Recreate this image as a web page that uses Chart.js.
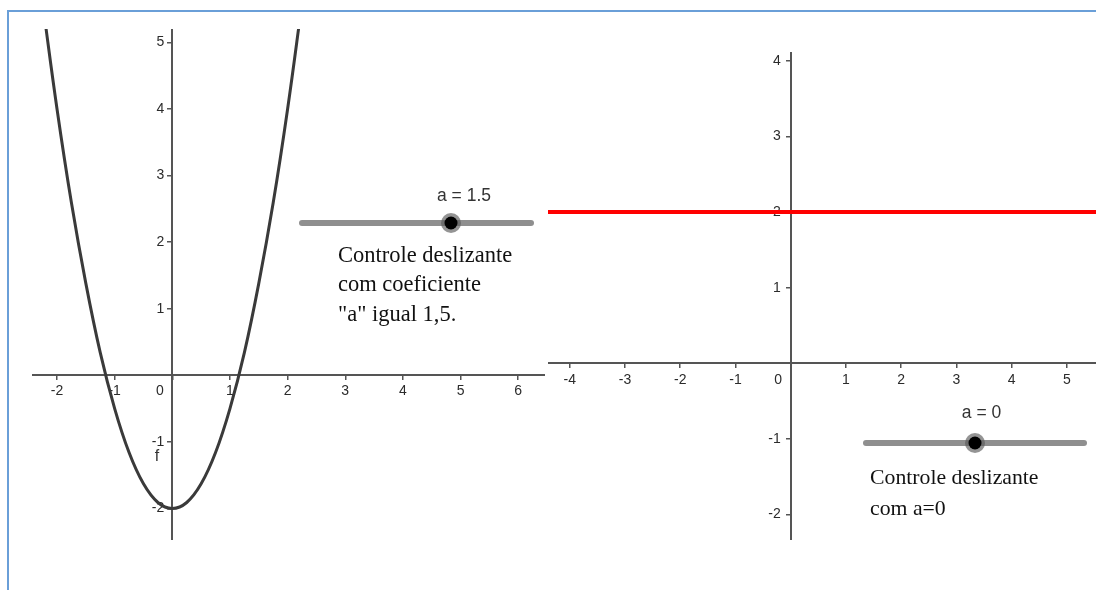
<!DOCTYPE html>
<html>
<head>
<meta charset="utf-8">
<script src="https://cdn.jsdelivr.net/npm/chart.js@4.4.1/dist/chart.umd.min.js"></script>
<style>
  html, body { margin: 0; padding: 0; background: #fff; }
  #page { position: relative; width: 1096px; height: 590px; overflow: hidden; }
  .frame { position: absolute; left: 7px; top: 10px; width: 1200px; height: 700px;
           border-top: 2px solid #6a9fd8; border-left: 2px solid #6a9fd8; }
  canvas { position: absolute; }
  .track { position: absolute; height: 6px; border-radius: 3px; background: #8f8f8f; }
  .knob { position: absolute; width: 13px; height: 13px; border-radius: 50%; background: #000;
          box-shadow: 0 0 0 3.5px rgba(90, 90, 90, .65); transform: translate(-50%, -50%); }
  .sl-label { position: absolute; font-family: 'Liberation Sans', Arial, sans-serif; font-size: 17.5px;
              color: #333; transform: translate(-50%, -50%); white-space: nowrap; }
  .note { position: absolute; font-family: 'Liberation Serif', 'Times New Roman', serif; color: #111; white-space: nowrap; }
  .flabel { position: absolute; font-family: 'Liberation Sans Narrow', 'Liberation Sans', sans-serif; font-size: 16px;
            color: #333; transform: translate(-50%, -50%); }
</style>
</head>
<body>
<div id="page">
  <div class="frame"></div>
  <canvas id="leftChart" width="513" height="511" style="left:32px; top:29px;"></canvas>
  <canvas id="rightChart" width="548" height="488" style="left:548px; top:52px;"></canvas>
  <div class="flabel" style="left:157px; top:456px;">f</div>
  <div class="note" style="left:338px; top:240px; font-size:22.5px; line-height:29.4px;">Controle deslizante<br>com coeficiente<br>"a" igual 1,5.</div>
  <div class="note" style="left:870px; top:462px; font-size:21.75px; line-height:31px;">Controle deslizante<br>com a=0</div>
</div>
<script>
// graph of f (left)
const fX = [-2.25, -2, -1.75, -1.5, -1.25, -1, -0.75, -0.5, -0.25, 0, 0.25, 0.5, 0.75, 1, 1.25, 1.5, 1.75, 2, 2.25];
const fY = [5.59, 4, 2.59, 1.38, 0.34, -0.5, -1.16, -1.63, -1.91, -2, -1.91, -1.63, -1.16, -0.5, 0.34, 1.38, 2.59, 4, 5.59];

// red horizontal line (right)
const gX = [-5, 6];
const gY = [2, 2];

// tick labels
const leftXTicks = [-2, -1, 0, 1, 2, 3, 4, 5, 6];
const leftYTicks = [-2, -1, 1, 2, 3, 4, 5];
const rightXTicks = [-4, -3, -2, -1, 0, 1, 2, 3, 4, 5];
const rightYTicks = [-2, -1, 1, 2, 3, 4];

// sliders
const sliderLabels = ['a = 1.5', 'a = 0'];
const sliderValues = [1.5, 0];
const sliderMin = -5;
const sliderMax = 5;

const tickFont = "'Liberation Sans Narrow', 'Liberation Sans', Arial, sans-serif";
const tickSize = 14;

function axis(min, max, ticks, pad) {
    return {
        type: 'linear',
        min: min,
        max: max,
        afterBuildTicks: function(s) { s.ticks = ticks.map(v => ({ value: v })); },
        afterFit: function(s) { s.paddingTop = s.paddingBottom = s.paddingLeft = s.paddingRight = 0; },
        grid: { drawOnChartArea: false, drawTicks: true, tickLength: 4, color: '#555', lineWidth: 1.5 },
        border: { display: true, color: '#555', width: 2 },
        ticks: {
            padding: pad,
            color: '#2b2b2b',
            autoSkip: false,
            maxRotation: 0,
            font: { family: tickFont, size: tickSize },
            callback: v => v === 0 ? '' : String(v)
        }
    };
}

// axes through the origin: push the y labels off the axis line,
// and put the "0" below and left of the origin like GeoGebra does
const originLabel = {
    id: 'originLabel',
    beforeDraw(chart) {
        const y = chart.scales.y;
        const items = y.getLabelItems(chart.chartArea);
        if (!items._shifted) {
            const off = y.options.grid.tickLength + y.options.ticks.padding;
            items.forEach(it => { it.options.translation[0] -= off; });
            items._shifted = true;
        }
    },
    afterDraw(chart) {
        const { ctx } = chart;
        const x = chart.scales.x, y = chart.scales.y;
        const px = x.getPixelForValue(0) - 12.5;
        const py = y.getPixelForValue(0) + 4 + x.options.ticks.padding + tickSize * 0.6;
        ctx.save();
        ctx.font = tickSize + 'px ' + tickFont;
        ctx.fillStyle = '#2b2b2b';
        ctx.textAlign = 'center';
        ctx.textBaseline = 'middle';
        ctx.fillText('0', px, py);
        ctx.restore();
    }
};

function makeChart(id, xs, ys, color, width, xAxis, yAxis) {
    return new Chart(document.getElementById(id), {
        type: 'scatter',
        data: {
            datasets: [{
                data: xs.map((v, i) => ({ x: v, y: ys[i] })),
                showLine: true,
                borderColor: color,
                borderWidth: width,
                pointRadius: 0,
                tension: 0.4,
                clip: 0
            }]
        },
        options: {
            responsive: false,
            animation: false,
            events: [],
            layout: { padding: 0, autoPadding: false },
            plugins: { legend: { display: false }, tooltip: { enabled: false } },
            scales: {
                x: Object.assign(xAxis, { position: { y: 0 } }),
                y: Object.assign(yAxis, { position: { x: 0 } })
            }
        },
        plugins: [originLabel]
    });
}

makeChart('leftChart', fX, fY, '#3a3a3a', 3,
    axis(-2.434, 6.465, leftXTicks, 3), axis(-2.473, 5.2, leftYTicks, 4));
makeChart('rightChart', gX, gY, '#ff0000', 4,
    axis(-4.393, 5.526, rightXTicks, 4), axis(-2.337, 4.118, rightYTicks, 6));

// slider widgets: track ends, track height, label centre
const sliderBoxes = [
    { x0: 301.5, x1: 531, y: 222.6, lx: 464, ly: 195 },
    { x0: 866, x1: 1084, y: 442.6, lx: 981.5, ly: 411.7 }
];
const page = document.getElementById('page');
sliderBoxes.forEach(function(b, i) {
    const track = document.createElement('div');
    track.className = 'track';
    track.style.left = (b.x0 - 3) + 'px';
    track.style.top = (b.y - 3) + 'px';
    track.style.width = (b.x1 - b.x0 + 6) + 'px';
    page.appendChild(track);

    const knob = document.createElement('div');
    knob.className = 'knob';
    const frac = (sliderValues[i] - sliderMin) / (sliderMax - sliderMin);
    knob.style.left = (b.x0 + frac * (b.x1 - b.x0)) + 'px';
    knob.style.top = b.y + 'px';
    page.appendChild(knob);

    const label = document.createElement('div');
    label.className = 'sl-label';
    label.textContent = sliderLabels[i];
    label.style.left = b.lx + 'px';
    label.style.top = b.ly + 'px';
    page.appendChild(label);
});
</script>
</body>
</html>
